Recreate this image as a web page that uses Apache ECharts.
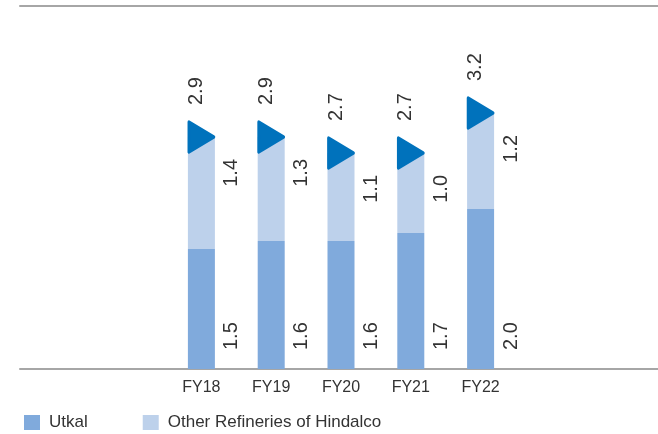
<!DOCTYPE html>
<html>
<head>
<meta charset="utf-8">
<script src="https://cdn.jsdelivr.net/npm/echarts@6/dist/echarts.min.js"></script>
<style>
  html, body { margin: 0; padding: 0; background: #fff; }
  #chart { width: 658px; height: 434px; }
</style>
</head>
<body>
<div id="chart"></div>
<script>
const years = ["FY18", "FY19", "FY20", "FY21", "FY22"];
const utkal = [1.5, 1.6, 1.6, 1.7, 2.0];
const otherRefineries = [1.4, 1.3, 1.1, 1.0, 1.2];
const totals = [2.9, 2.9, 2.7, 2.7, 3.2];

const labelFont = "'Liberation Sans', sans-serif";
const textColor = "#333333";

const chart = echarts.init(document.getElementById("chart"));

// offsets of rotated labels are given in the label's own (rotated) frame
const option = {
  animation: false,
  grid: [
    { left: 166.5, right: 142.5, top: 6, bottom: 65 },
    { left: 20, right: 0, top: 6, bottom: 65 },
  ],
  legend: {
    left: 19,
    top: 409,
    itemWidth: 16,
    itemHeight: 15,
    itemGap: 55,
    icon: "rect",
    data: ["Utkal", "Other Refineries of Hindalco"],
    textStyle: {
      fontFamily: labelFont,
      fontSize: 17,
      color: textColor,
      padding: [0, 0, 0, 4],
    },
  },
  xAxis: [
    {
      type: "category",
      gridIndex: 0,
      data: years,
      axisLine: { show: false },
      axisTick: { show: false },
      axisLabel: {
        margin: 11,
        fontFamily: labelFont,
        fontSize: 16,
        color: textColor,
      },
    },
    {
      type: "value",
      gridIndex: 1,
      position: "bottom",
      axisLine: { show: true, lineStyle: { color: "#a6a6a6", width: 2 } },
      axisTick: { show: false },
      axisLabel: { show: false },
      splitLine: { show: false },
    },
    {
      type: "value",
      gridIndex: 1,
      position: "top",
      axisLine: { show: true, lineStyle: { color: "#a6a6a6", width: 2 } },
      axisTick: { show: false },
      axisLabel: { show: false },
      splitLine: { show: false },
    },
  ],
  yAxis: [
    {
      type: "value",
      gridIndex: 0,
      min: 0,
      max: 4.5375,
      show: false,
    },
    {
      type: "value",
      gridIndex: 1,
      show: false,
    },
  ],
  series: [
    {
      name: "Utkal",
      type: "bar",
      stack: "total",
      barWidth: 27,
      data: utkal,
      itemStyle: { color: "#80aadc" },
      label: {
        show: true,
        position: ["100%", "100%"],
        rotate: 90,
        align: "left",
        verticalAlign: "middle",
        offset: [19, 17],
        fontFamily: labelFont,
        fontSize: 20,
        color: textColor,
        formatter: (p) => p.value.toFixed(1),
      },
    },
    {
      name: "Other Refineries of Hindalco",
      type: "bar",
      stack: "total",
      barWidth: 27,
      data: otherRefineries,
      itemStyle: { color: "#bdd1eb" },
      label: {
        show: true,
        position: ["100%", 0],
        rotate: 90,
        align: "right",
        verticalAlign: "middle",
        offset: [-22, 17],
        fontFamily: labelFont,
        fontSize: 20,
        color: textColor,
        formatter: (p) => p.value.toFixed(1),
      },
    },
    {
      name: "Total",
      type: "scatter",
      data: totals,
      symbol: "triangle",
      symbolSize: [30, 25],
      symbolRotate: -90,
      itemStyle: {
        color: "#0072bc",
        borderColor: "#0072bc",
        borderWidth: 3,
        borderJoin: "round",
        opacity: 1,
      },
      z: 5,
      label: {
        show: true,
        position: "inside",
        rotate: 90,
        align: "left",
        verticalAlign: "middle",
        offset: [32, -5],
        fontFamily: labelFont,
        fontSize: 20,
        color: textColor,
        formatter: (p) => p.value.toFixed(1),
      },
    },
  ],
};

chart.setOption(option);
</script>
</body>
</html>
